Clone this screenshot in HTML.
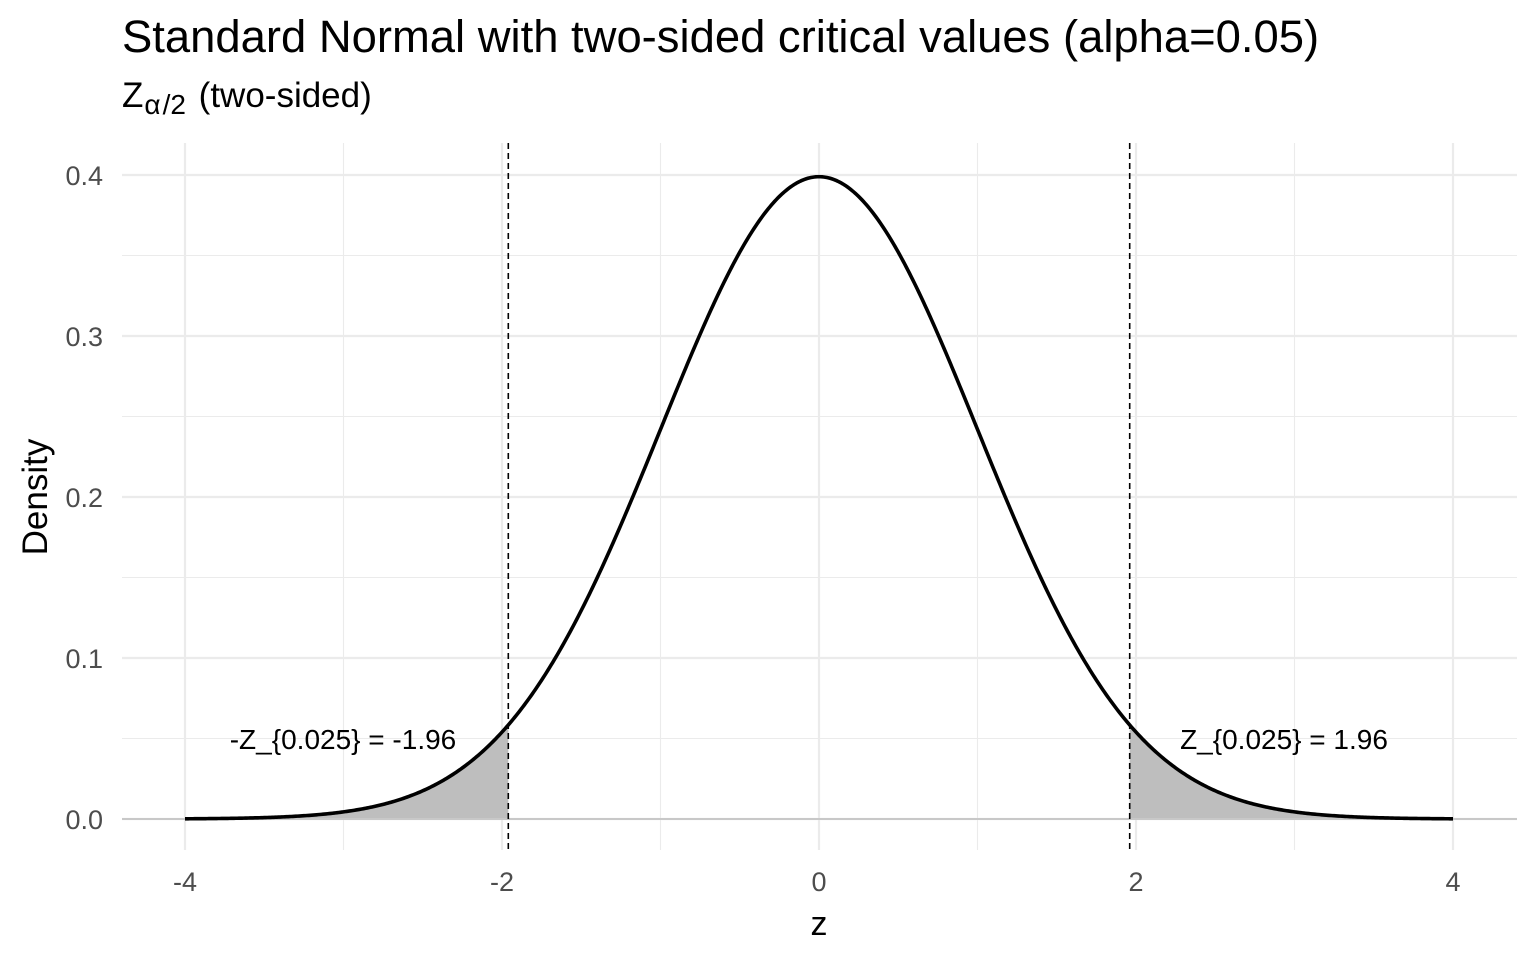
<!DOCTYPE html>
<html><head><meta charset="utf-8"><style>
html,body{margin:0;padding:0;background:#fff;}
svg{display:block;font-family:"Liberation Sans",Arial,sans-serif;}
</style></head><body>
<svg id="s" width="1536" height="960" viewBox="0 0 1536 960" xmlns="http://www.w3.org/2000/svg">
<rect width="1536" height="960" fill="#fff"/>
<g stroke="#ebebeb" stroke-width="1.1">
<line x1="122" x2="1517" y1="255.5" y2="255.5"/><line x1="122" x2="1517" y1="416.5" y2="416.5"/>
<line x1="122" x2="1517" y1="577.5" y2="577.5"/><line x1="122" x2="1517" y1="738.5" y2="738.5"/>
<line y1="143" y2="850" x1="343.5" x2="343.5"/><line y1="143" y2="850" x1="660.5" x2="660.5"/>
<line y1="143" y2="850" x1="977.5" x2="977.5"/><line y1="143" y2="850" x1="1294.5" x2="1294.5"/>
</g>
<g stroke="#ebebeb" stroke-width="2.2">
<line x1="122" x2="1517" y1="175" y2="175"/><line x1="122" x2="1517" y1="336" y2="336"/>
<line x1="122" x2="1517" y1="497" y2="497"/><line x1="122" x2="1517" y1="658" y2="658"/>
<line x1="122" x2="1517" y1="819" y2="819"/>
<line y1="143" y2="850" x1="185" x2="185"/><line y1="143" y2="850" x1="502" x2="502"/>
<line y1="143" y2="850" x1="819" x2="819"/><line y1="143" y2="850" x1="1136" x2="1136"/>
<line y1="143" y2="850" x1="1453" x2="1453"/>
</g>
<path id="fl" fill="#bebebe" d=""/>
<path id="fr" fill="#bebebe" d=""/>
<line x1="122" x2="1517" y1="819" y2="819" stroke="#c8c8c8" stroke-width="2"/>
<path id="cv" fill="none" stroke="#000" stroke-width="3.6" d=""/>
<line x1="508.3" x2="508.3" y1="143" y2="850" stroke="#000" stroke-width="1.6" stroke-dasharray="6,4"/>
<line x1="1129.7" x2="1129.7" y1="143" y2="850" stroke="#000" stroke-width="1.6" stroke-dasharray="6,4"/>
<g font-size="28" fill="#000">
<text x="343" y="749" text-anchor="middle">-Z_{0.025} = -1.96</text>
<text x="1284" y="749" text-anchor="middle">Z_{0.025} = 1.96</text>
</g>
<g font-size="27" fill="#4d4d4d" text-anchor="end">
<text x="103" y="185">0.4</text><text x="103" y="346">0.3</text><text x="103" y="507">0.2</text>
<text x="103" y="668">0.1</text><text x="103" y="829">0.0</text>
</g>
<g font-size="27" fill="#4d4d4d" text-anchor="middle">
<text x="185" y="891">-4</text><text x="502" y="891">-2</text><text x="819" y="891">0</text>
<text x="1136" y="891">2</text><text x="1453" y="891">4</text>
</g>
<text x="819" y="935" font-size="34" text-anchor="middle">z</text>
<text transform="translate(47,497) rotate(-90)" font-size="35" text-anchor="middle">Density</text>
<text x="122" y="52" font-size="45.4">Standard Normal with two-sided critical values (alpha=0.05)</text>
<text x="122" y="107" font-size="35">Z<tspan font-size="28" dy="7" dx="1">α</tspan><tspan font-size="28" dx="2">/2</tspan><tspan dy="-7" dx="3"> (two-sided)</tspan></text>
</svg>
<script>
function X(z){return 819+z*158.5;}
function Y(z){return 819-1610*Math.exp(-z*z/2)/Math.sqrt(2*Math.PI);}
var d="";for(var i=0;i<=800;i++){var z=-4+i*0.01;d+=(i?"L":"M")+X(z).toFixed(2)+" "+Y(z).toFixed(2);}
document.getElementById("cv").setAttribute("d",d);
function area(a,b){var s="M"+X(a)+" 819";for(var z=a;z<=b+1e-9;z+=0.01)s+="L"+X(z).toFixed(2)+" "+Y(z).toFixed(2);s+="L"+X(b)+" "+Y(b)+"L"+X(b)+" 819Z";return s;}
document.getElementById("fl").setAttribute("d",area(-4,-1.96));
document.getElementById("fr").setAttribute("d",area(1.96,4));
</script>
</body></html>
